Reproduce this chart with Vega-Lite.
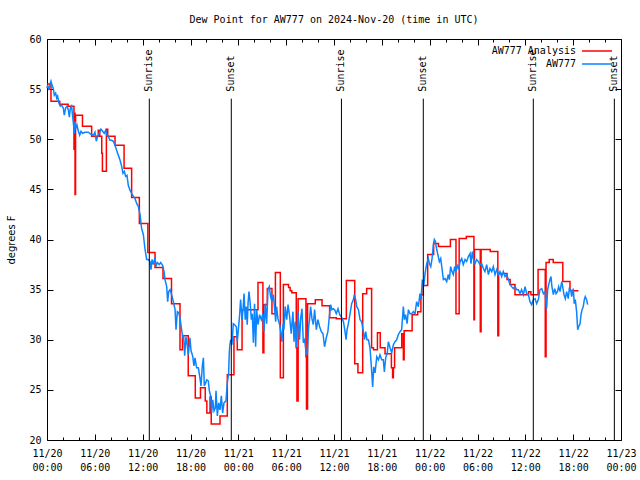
{
  "$schema": "https://vega.github.io/schema/vega-lite/v6.json",
  "autosize": "none",
  "width": 574,
  "height": 401,
  "padding": {"top": 39, "left": 47, "right": 19, "bottom": 40},
  "background": "white",
  "title": {"text": "Dew Point for AW777 on 2024-Nov-20 (time in UTC)", "font": "DejaVu Sans Mono", "fontSize": 10, "fontWeight": "normal", "color": "black", "offset": 9, "anchor": "middle"},
  "config": {
    "view": {"stroke": "black", "strokeWidth": 1},
    "axis": {"domain": false, "grid": false, "labelFont": "DejaVu Sans Mono", "labelFontSize": 10, "labelColor": "black", "tickColor": "black", "tickWidth": 1, "labelFlush": false, "labelOverlap": false, "titleColor": "black"}
  },
  "datasets": {
    "sun": [
      {"t": "2024-11-20T12:50:00Z", "label": "Sunrise"},
      {"t": "2024-11-20T23:07:00Z", "label": "Sunset"},
      {"t": "2024-11-21T12:56:00Z", "label": "Sunrise"},
      {"t": "2024-11-21T23:12:00Z", "label": "Sunset"},
      {"t": "2024-11-22T13:00:00Z", "label": "Sunrise"},
      {"t": "2024-11-22T23:10:00Z", "label": "Sunset"}
    ],
    "red": [
      {"t":"2024-11-20T00:00:00Z","v":55.5},{"t":"2024-11-20T00:30:00Z","v":53.8},{"t":"2024-11-20T01:36:00Z","v":53.5},{"t":"2024-11-20T02:39:00Z","v":53.3},
      {"t":"2024-11-20T03:23:00Z","v":49.0},{"t":"2024-11-20T03:27:00Z","v":52.6},{"t":"2024-11-20T03:31:00Z","v":44.5},{"t":"2024-11-20T03:35:00Z","v":52.4},
      {"t":"2024-11-20T04:27:00Z","v":51.3},{"t":"2024-11-20T05:36:00Z","v":50.3},{"t":"2024-11-20T06:26:00Z","v":50.9},{"t":"2024-11-20T06:37:00Z","v":50.3},
      {"t":"2024-11-20T06:52:00Z","v":48.6},{"t":"2024-11-20T06:57:00Z","v":46.8},{"t":"2024-11-20T07:27:00Z","v":51.0},{"t":"2024-11-20T07:37:00Z","v":50.3},
      {"t":"2024-11-20T08:32:00Z","v":49.4},{"t":"2024-11-20T09:40:00Z","v":47.1},{"t":"2024-11-20T10:37:00Z","v":44.2},{"t":"2024-11-20T11:35:00Z","v":41.6},
      {"t":"2024-11-20T12:39:00Z","v":38.7},{"t":"2024-11-20T13:33:00Z","v":37.2},{"t":"2024-11-20T14:33:00Z","v":36.1},{"t":"2024-11-20T15:37:00Z","v":33.6},
      {"t":"2024-11-20T16:41:00Z","v":29.0},{"t":"2024-11-20T17:00:00Z","v":30.4},{"t":"2024-11-20T17:43:00Z","v":26.4},{"t":"2024-11-20T18:36:00Z","v":24.2},
      {"t":"2024-11-20T19:15:00Z","v":25.2},{"t":"2024-11-20T19:51:00Z","v":23.9},{"t":"2024-11-20T20:03:00Z","v":22.7},{"t":"2024-11-20T20:27:00Z","v":24.3},
      {"t":"2024-11-20T20:36:00Z","v":21.6},{"t":"2024-11-20T21:42:00Z","v":22.4},{"t":"2024-11-20T22:37:00Z","v":26.5},{"t":"2024-11-20T23:27:00Z","v":30.3},
      {"t":"2024-11-20T23:52:00Z","v":29.0},{"t":"2024-11-21T00:28:00Z","v":33.0},{"t":"2024-11-21T02:28:00Z","v":35.7},{"t":"2024-11-21T03:05:00Z","v":28.7},
      {"t":"2024-11-21T03:12:00Z","v":33.5},{"t":"2024-11-21T03:38:00Z","v":35.1},{"t":"2024-11-21T04:13:00Z","v":32.6},{"t":"2024-11-21T04:39:00Z","v":36.7},
      {"t":"2024-11-21T05:16:00Z","v":26.2},{"t":"2024-11-21T05:39:00Z","v":35.5},{"t":"2024-11-21T06:18:00Z","v":35.2},{"t":"2024-11-21T06:30:00Z","v":34.9},
      {"t":"2024-11-21T06:42:00Z","v":34.7},{"t":"2024-11-21T07:16:00Z","v":29.2},{"t":"2024-11-21T07:21:00Z","v":23.9},{"t":"2024-11-21T07:30:00Z","v":34.1},
      {"t":"2024-11-21T08:29:00Z","v":28.3},{"t":"2024-11-21T08:33:00Z","v":23.1},{"t":"2024-11-21T08:41:00Z","v":33.6},{"t":"2024-11-21T09:39:00Z","v":34.0},
      {"t":"2024-11-21T10:30:00Z","v":33.4},{"t":"2024-11-21T11:27:00Z","v":32.2},{"t":"2024-11-21T12:18:00Z","v":32.1},{"t":"2024-11-21T13:33:00Z","v":35.9},
      {"t":"2024-11-21T14:36:00Z","v":27.6},{"t":"2024-11-21T15:00:00Z","v":26.7},{"t":"2024-11-21T15:36:00Z","v":34.6},{"t":"2024-11-21T16:06:00Z","v":35.1},
      {"t":"2024-11-21T16:43:00Z","v":29.2},{"t":"2024-11-21T16:57:00Z","v":29.0},{"t":"2024-11-21T17:27:00Z","v":30.7},{"t":"2024-11-21T17:48:00Z","v":29.2},
      {"t":"2024-11-21T18:24:00Z","v":28.6},{"t":"2024-11-21T19:12:00Z","v":27.2},{"t":"2024-11-21T19:21:00Z","v":26.2},{"t":"2024-11-21T19:27:00Z","v":27.2},
      {"t":"2024-11-21T19:36:00Z","v":29.2},{"t":"2024-11-21T20:30:00Z","v":30.6},{"t":"2024-11-21T20:42:00Z","v":28.0},{"t":"2024-11-21T20:48:00Z","v":30.9},
      {"t":"2024-11-21T21:48:00Z","v":32.5},{"t":"2024-11-21T22:30:00Z","v":32.8},{"t":"2024-11-21T22:54:00Z","v":34.5},{"t":"2024-11-21T23:12:00Z","v":35.4},
      {"t":"2024-11-21T23:45:00Z","v":38.5},{"t":"2024-11-22T00:30:00Z","v":39.6},{"t":"2024-11-22T01:06:00Z","v":39.3},{"t":"2024-11-22T02:36:00Z","v":40.0},
      {"t":"2024-11-22T03:18:00Z","v":32.6},{"t":"2024-11-22T03:42:00Z","v":40.1},{"t":"2024-11-22T04:36:00Z","v":40.3},{"t":"2024-11-22T05:33:00Z","v":32.0},
      {"t":"2024-11-22T05:37:00Z","v":39.0},{"t":"2024-11-22T06:21:00Z","v":30.8},{"t":"2024-11-22T06:27:00Z","v":39.0},{"t":"2024-11-22T07:36:00Z","v":38.8},
      {"t":"2024-11-22T08:33:00Z","v":30.4},{"t":"2024-11-22T08:39:00Z","v":36.6},{"t":"2024-11-22T09:42:00Z","v":36.0},{"t":"2024-11-22T10:06:00Z","v":35.5},
      {"t":"2024-11-22T10:42:00Z","v":34.5},{"t":"2024-11-22T12:24:00Z","v":34.8},{"t":"2024-11-22T12:42:00Z","v":34.5},{"t":"2024-11-22T13:36:00Z","v":37.0},
      {"t":"2024-11-22T14:30:00Z","v":28.3},{"t":"2024-11-22T14:36:00Z","v":37.7},{"t":"2024-11-22T15:00:00Z","v":38.0},{"t":"2024-11-22T15:30:00Z","v":37.7},
      {"t":"2024-11-22T16:42:00Z","v":35.8},{"t":"2024-11-22T17:36:00Z","v":34.9},{"t":"2024-11-22T18:39:00Z","v":34.9}
    ],
    "blue": [
      {"t":"2024-11-20T00:00:00Z","v":55.1},{"t":"2024-11-20T00:05:00Z","v":55.4},{"t":"2024-11-20T00:15:00Z","v":54.9},{"t":"2024-11-20T00:23:00Z","v":55.5},
      {"t":"2024-11-20T00:30:00Z","v":55.8},{"t":"2024-11-20T00:40:00Z","v":55.3},{"t":"2024-11-20T00:47:00Z","v":55.1},{"t":"2024-11-20T00:55:00Z","v":54.4},
      {"t":"2024-11-20T01:05:00Z","v":54.6},{"t":"2024-11-20T01:13:00Z","v":54.1},{"t":"2024-11-20T01:20:00Z","v":54.3},{"t":"2024-11-20T01:30:00Z","v":53.6},
      {"t":"2024-11-20T01:40:00Z","v":53.3},{"t":"2024-11-20T01:50:00Z","v":53.4},{"t":"2024-11-20T02:03:00Z","v":53.1},{"t":"2024-11-20T02:10:00Z","v":52.4},
      {"t":"2024-11-20T02:20:00Z","v":53.1},{"t":"2024-11-20T02:31:00Z","v":53.3},{"t":"2024-11-20T02:41:00Z","v":52.9},{"t":"2024-11-20T02:48:00Z","v":52.2},
      {"t":"2024-11-20T02:56:00Z","v":53.1},{"t":"2024-11-20T03:05:00Z","v":53.3},{"t":"2024-11-20T03:13:00Z","v":52.3},{"t":"2024-11-20T03:20:00Z","v":51.4},
      {"t":"2024-11-20T03:26:00Z","v":50.6},{"t":"2024-11-20T03:31:00Z","v":51.8},{"t":"2024-11-20T03:38:00Z","v":51.1},{"t":"2024-11-20T03:46:00Z","v":51.4},
      {"t":"2024-11-20T03:56:00Z","v":50.8},{"t":"2024-11-20T04:06:00Z","v":50.4},{"t":"2024-11-20T04:16:00Z","v":50.8},{"t":"2024-11-20T04:28:00Z","v":50.6},
      {"t":"2024-11-20T04:46:00Z","v":50.7},{"t":"2024-11-20T05:11:00Z","v":50.7},{"t":"2024-11-20T05:31:00Z","v":50.5},{"t":"2024-11-20T05:49:00Z","v":50.4},
      {"t":"2024-11-20T06:01:00Z","v":50.7},{"t":"2024-11-20T06:11:00Z","v":49.8},{"t":"2024-11-20T06:21:00Z","v":50.3},{"t":"2024-11-20T06:34:00Z","v":50.6},
      {"t":"2024-11-20T06:46:00Z","v":51.0},{"t":"2024-11-20T06:59:00Z","v":50.8},{"t":"2024-11-20T07:11:00Z","v":50.6},{"t":"2024-11-20T07:22:00Z","v":50.9},
      {"t":"2024-11-20T07:32:00Z","v":50.4},{"t":"2024-11-20T07:41:00Z","v":50.3},{"t":"2024-11-20T07:54:00Z","v":49.9},{"t":"2024-11-20T08:07:00Z","v":49.9},
      {"t":"2024-11-20T08:19:00Z","v":49.8},{"t":"2024-11-20T08:32:00Z","v":49.4},{"t":"2024-11-20T08:44:00Z","v":48.9},{"t":"2024-11-20T08:57:00Z","v":48.4},
      {"t":"2024-11-20T09:10:00Z","v":47.9},{"t":"2024-11-20T09:22:00Z","v":47.3},{"t":"2024-11-20T09:32:00Z","v":46.6},{"t":"2024-11-20T09:42:00Z","v":46.8},
      {"t":"2024-11-20T09:52:00Z","v":46.3},{"t":"2024-11-20T10:02:00Z","v":46.4},{"t":"2024-11-20T10:12:00Z","v":45.4},{"t":"2024-11-20T10:25:00Z","v":44.9},
      {"t":"2024-11-20T10:37:00Z","v":44.6},{"t":"2024-11-20T10:50:00Z","v":44.3},{"t":"2024-11-20T11:02:00Z","v":44.1},{"t":"2024-11-20T11:15:00Z","v":43.6},
      {"t":"2024-11-20T11:27:00Z","v":43.3},{"t":"2024-11-20T11:40:00Z","v":42.5},{"t":"2024-11-20T11:52:00Z","v":41.1},{"t":"2024-11-20T12:05:00Z","v":40.5},
      {"t":"2024-11-20T12:17:00Z","v":39.1},{"t":"2024-11-20T12:30:00Z","v":38.0},{"t":"2024-11-20T12:43:00Z","v":38.0},{"t":"2024-11-20T12:55:00Z","v":37.8},
      {"t":"2024-11-20T13:03:00Z","v":37.0},{"t":"2024-11-20T13:10:00Z","v":38.0},{"t":"2024-11-20T13:20:00Z","v":37.5},{"t":"2024-11-20T13:33:00Z","v":38.2},
      {"t":"2024-11-20T13:40:00Z","v":37.3},{"t":"2024-11-20T13:50:00Z","v":37.7},{"t":"2024-11-20T14:05:00Z","v":37.5},{"t":"2024-11-20T14:16:00Z","v":37.7},
      {"t":"2024-11-20T14:31:00Z","v":37.4},{"t":"2024-11-20T14:41:00Z","v":36.8},{"t":"2024-11-20T14:48:00Z","v":36.0},{"t":"2024-11-20T15:01:00Z","v":35.3},
      {"t":"2024-11-20T15:08:00Z","v":33.8},{"t":"2024-11-20T15:16:00Z","v":34.8},{"t":"2024-11-20T15:26:00Z","v":35.0},{"t":"2024-11-20T15:38:00Z","v":34.5},
      {"t":"2024-11-20T15:51:00Z","v":33.8},{"t":"2024-11-20T16:04:00Z","v":33.0},{"t":"2024-11-20T16:11:00Z","v":31.0},{"t":"2024-11-20T16:21:00Z","v":32.8},
      {"t":"2024-11-20T16:31:00Z","v":32.7},{"t":"2024-11-20T16:41:00Z","v":32.2},{"t":"2024-11-20T16:53:00Z","v":31.0},{"t":"2024-11-20T17:01:00Z","v":30.3},
      {"t":"2024-11-20T17:08:00Z","v":30.5},{"t":"2024-11-20T17:16:00Z","v":28.4},{"t":"2024-11-20T17:26:00Z","v":30.3},{"t":"2024-11-20T17:36:00Z","v":29.4},
      {"t":"2024-11-20T17:44:00Z","v":28.5},{"t":"2024-11-20T17:56:00Z","v":30.2},{"t":"2024-11-20T18:04:00Z","v":28.9},{"t":"2024-11-20T18:16:00Z","v":28.4},
      {"t":"2024-11-20T18:26:00Z","v":27.4},{"t":"2024-11-20T18:34:00Z","v":28.2},{"t":"2024-11-20T18:46:00Z","v":27.2},{"t":"2024-11-20T18:59:00Z","v":27.2},
      {"t":"2024-11-20T19:11:00Z","v":26.2},{"t":"2024-11-20T19:19:00Z","v":25.4},{"t":"2024-11-20T19:29:00Z","v":27.4},{"t":"2024-11-20T19:37:00Z","v":28.2},
      {"t":"2024-11-20T19:44:00Z","v":25.4},{"t":"2024-11-20T19:54:00Z","v":25.7},{"t":"2024-11-20T20:02:00Z","v":26.0},{"t":"2024-11-20T20:14:00Z","v":25.9},
      {"t":"2024-11-20T20:22:00Z","v":24.9},{"t":"2024-11-20T20:32:00Z","v":24.4},{"t":"2024-11-20T20:39:00Z","v":22.7},{"t":"2024-11-20T20:47:00Z","v":24.0},
      {"t":"2024-11-20T20:57:00Z","v":22.9},{"t":"2024-11-20T21:07:00Z","v":23.2},{"t":"2024-11-20T21:12:00Z","v":24.9},{"t":"2024-11-20T21:22:00Z","v":22.4},
      {"t":"2024-11-20T21:32:00Z","v":23.7},{"t":"2024-11-20T21:42:00Z","v":23.0},{"t":"2024-11-20T21:52:00Z","v":24.4},{"t":"2024-11-20T22:02:00Z","v":22.7},
      {"t":"2024-11-20T22:12:00Z","v":23.7},{"t":"2024-11-20T22:27:00Z","v":23.9},{"t":"2024-11-20T22:37:00Z","v":25.7},{"t":"2024-11-20T22:47:00Z","v":26.7},
      {"t":"2024-11-20T22:52:00Z","v":28.7},{"t":"2024-11-20T22:55:00Z","v":29.3},{"t":"2024-11-20T23:02:00Z","v":30.0},{"t":"2024-11-20T23:12:00Z","v":29.5},
      {"t":"2024-11-20T23:22:00Z","v":31.6},{"t":"2024-11-20T23:32:00Z","v":31.5},{"t":"2024-11-20T23:45:00Z","v":31.3},{"t":"2024-11-20T23:52:00Z","v":29.8},
      {"t":"2024-11-21T00:02:00Z","v":31.3},{"t":"2024-11-21T00:10:00Z","v":32.5},{"t":"2024-11-21T00:17:00Z","v":34.0},{"t":"2024-11-21T00:28:00Z","v":32.0},
      {"t":"2024-11-21T00:35:00Z","v":33.0},{"t":"2024-11-21T00:43:00Z","v":34.6},{"t":"2024-11-21T00:52:00Z","v":32.0},{"t":"2024-11-21T01:00:00Z","v":33.3},
      {"t":"2024-11-21T01:07:00Z","v":31.5},{"t":"2024-11-21T01:13:00Z","v":33.6},{"t":"2024-11-21T01:20:00Z","v":34.8},{"t":"2024-11-21T01:28:00Z","v":33.8},
      {"t":"2024-11-21T01:38:00Z","v":32.0},{"t":"2024-11-21T01:45:00Z","v":32.6},{"t":"2024-11-21T01:53:00Z","v":29.7},{"t":"2024-11-21T02:02:00Z","v":33.6},
      {"t":"2024-11-21T02:10:00Z","v":29.3},{"t":"2024-11-21T02:18:00Z","v":33.0},{"t":"2024-11-21T02:28:00Z","v":31.5},{"t":"2024-11-21T02:40:00Z","v":32.5},
      {"t":"2024-11-21T02:53:00Z","v":32.0},{"t":"2024-11-21T03:05:00Z","v":32.6},{"t":"2024-11-21T03:13:00Z","v":30.8},{"t":"2024-11-21T03:23:00Z","v":33.6},
      {"t":"2024-11-21T03:33:00Z","v":31.6},{"t":"2024-11-21T03:43:00Z","v":35.0},{"t":"2024-11-21T03:53:00Z","v":35.3},{"t":"2024-11-21T04:03:00Z","v":34.3},
      {"t":"2024-11-21T04:13:00Z","v":33.8},{"t":"2024-11-21T04:23:00Z","v":34.5},{"t":"2024-11-21T04:33:00Z","v":33.1},{"t":"2024-11-21T04:41:00Z","v":31.8},
      {"t":"2024-11-21T04:48:00Z","v":33.3},{"t":"2024-11-21T04:58:00Z","v":32.1},{"t":"2024-11-21T05:11:00Z","v":31.5},{"t":"2024-11-21T05:19:00Z","v":30.8},
      {"t":"2024-11-21T05:28:00Z","v":29.8},{"t":"2024-11-21T05:36:00Z","v":31.6},{"t":"2024-11-21T05:43:00Z","v":31.0},{"t":"2024-11-21T05:53:00Z","v":33.3},
      {"t":"2024-11-21T06:04:00Z","v":32.0},{"t":"2024-11-21T06:14:00Z","v":33.5},{"t":"2024-11-21T06:26:00Z","v":32.3},{"t":"2024-11-21T06:38:00Z","v":30.6},
      {"t":"2024-11-21T06:51:00Z","v":32.8},{"t":"2024-11-21T06:59:00Z","v":29.8},{"t":"2024-11-21T07:08:00Z","v":31.8},{"t":"2024-11-21T07:16:00Z","v":29.2},
      {"t":"2024-11-21T07:29:00Z","v":32.8},{"t":"2024-11-21T07:41:00Z","v":30.0},{"t":"2024-11-21T07:49:00Z","v":32.1},{"t":"2024-11-21T07:59:00Z","v":33.1},
      {"t":"2024-11-21T08:09:00Z","v":29.7},{"t":"2024-11-21T08:19:00Z","v":30.0},{"t":"2024-11-21T08:29:00Z","v":28.8},{"t":"2024-11-21T08:39:00Z","v":28.5},
      {"t":"2024-11-21T08:49:00Z","v":31.3},{"t":"2024-11-21T08:56:00Z","v":32.0},{"t":"2024-11-21T09:04:00Z","v":33.3},{"t":"2024-11-21T09:14:00Z","v":32.1},
      {"t":"2024-11-21T09:24:00Z","v":31.5},{"t":"2024-11-21T09:34:00Z","v":33.0},{"t":"2024-11-21T09:47:00Z","v":31.0},{"t":"2024-11-21T09:59:00Z","v":32.0},
      {"t":"2024-11-21T10:12:00Z","v":31.3},{"t":"2024-11-21T10:25:00Z","v":30.8},{"t":"2024-11-21T10:37:00Z","v":30.6},{"t":"2024-11-21T10:49:00Z","v":29.3},
      {"t":"2024-11-21T11:02:00Z","v":30.2},{"t":"2024-11-21T11:14:00Z","v":30.8},{"t":"2024-11-21T11:27:00Z","v":32.6},{"t":"2024-11-21T11:35:00Z","v":33.5},
      {"t":"2024-11-21T11:44:00Z","v":33.0},{"t":"2024-11-21T11:55:00Z","v":33.1},{"t":"2024-11-21T12:05:00Z","v":33.0},{"t":"2024-11-21T12:17:00Z","v":32.6},
      {"t":"2024-11-21T12:30:00Z","v":33.1},{"t":"2024-11-21T12:43:00Z","v":32.5},{"t":"2024-11-21T12:55:00Z","v":32.3},{"t":"2024-11-21T13:11:00Z","v":31.8},
      {"t":"2024-11-21T13:23:00Z","v":30.8},{"t":"2024-11-21T13:31:00Z","v":30.0},{"t":"2024-11-21T13:38:00Z","v":31.0},{"t":"2024-11-21T13:48:00Z","v":31.6},
      {"t":"2024-11-21T14:01:00Z","v":32.6},{"t":"2024-11-21T14:13:00Z","v":33.6},{"t":"2024-11-21T14:26:00Z","v":34.0},{"t":"2024-11-21T14:33:00Z","v":34.5},
      {"t":"2024-11-21T14:43:00Z","v":34.0},{"t":"2024-11-21T14:51:00Z","v":33.3},{"t":"2024-11-21T15:04:00Z","v":33.0},{"t":"2024-11-21T15:16:00Z","v":32.0},
      {"t":"2024-11-21T15:28:00Z","v":31.8},{"t":"2024-11-21T15:41:00Z","v":30.8},{"t":"2024-11-21T15:49:00Z","v":30.0},{"t":"2024-11-21T15:59:00Z","v":30.8},
      {"t":"2024-11-21T16:08:00Z","v":30.0},{"t":"2024-11-21T16:19:00Z","v":30.0},{"t":"2024-11-21T16:31:00Z","v":29.2},{"t":"2024-11-21T16:44:00Z","v":26.8},
      {"t":"2024-11-21T16:51:00Z","v":25.3},{"t":"2024-11-21T16:59:00Z","v":27.3},{"t":"2024-11-21T17:09:00Z","v":26.7},{"t":"2024-11-21T17:22:00Z","v":28.3},
      {"t":"2024-11-21T17:34:00Z","v":28.0},{"t":"2024-11-21T17:46:00Z","v":28.5},{"t":"2024-11-21T17:59:00Z","v":28.0},{"t":"2024-11-21T18:11:00Z","v":28.0},
      {"t":"2024-11-21T18:19:00Z","v":26.8},{"t":"2024-11-21T18:29:00Z","v":28.2},{"t":"2024-11-21T18:41:00Z","v":28.7},{"t":"2024-11-21T18:49:00Z","v":29.8},
      {"t":"2024-11-21T19:02:00Z","v":29.2},{"t":"2024-11-21T19:14:00Z","v":28.7},{"t":"2024-11-21T19:27:00Z","v":29.5},{"t":"2024-11-21T19:39:00Z","v":29.8},
      {"t":"2024-11-21T19:52:00Z","v":30.0},{"t":"2024-11-21T20:04:00Z","v":30.5},{"t":"2024-11-21T20:17:00Z","v":30.8},{"t":"2024-11-21T20:29:00Z","v":31.0},
      {"t":"2024-11-21T20:42:00Z","v":33.3},{"t":"2024-11-21T20:50:00Z","v":32.0},{"t":"2024-11-21T20:59:00Z","v":32.5},{"t":"2024-11-21T21:10:00Z","v":31.6},
      {"t":"2024-11-21T21:20:00Z","v":33.0},{"t":"2024-11-21T21:32:00Z","v":32.6},{"t":"2024-11-21T21:45:00Z","v":32.6},{"t":"2024-11-21T21:57:00Z","v":32.8},
      {"t":"2024-11-21T22:10:00Z","v":32.6},{"t":"2024-11-21T22:22:00Z","v":33.8},{"t":"2024-11-21T22:35:00Z","v":33.3},{"t":"2024-11-21T22:47:00Z","v":34.6},
      {"t":"2024-11-21T22:55:00Z","v":34.0},{"t":"2024-11-21T23:05:00Z","v":36.0},{"t":"2024-11-21T23:15:00Z","v":35.3},{"t":"2024-11-21T23:25:00Z","v":36.6},
      {"t":"2024-11-21T23:38:00Z","v":37.6},{"t":"2024-11-21T23:43:00Z","v":37.8},{"t":"2024-11-21T23:50:00Z","v":38.1},{"t":"2024-11-21T23:58:00Z","v":37.6},
      {"t":"2024-11-22T00:08:00Z","v":37.3},{"t":"2024-11-22T00:18:00Z","v":38.1},{"t":"2024-11-22T00:28:00Z","v":39.5},{"t":"2024-11-22T00:35:00Z","v":40.0},
      {"t":"2024-11-22T00:43:00Z","v":39.8},{"t":"2024-11-22T00:53:00Z","v":39.0},{"t":"2024-11-22T01:05:00Z","v":38.3},{"t":"2024-11-22T01:13:00Z","v":37.8},
      {"t":"2024-11-22T01:23:00Z","v":38.1},{"t":"2024-11-22T01:33:00Z","v":37.1},{"t":"2024-11-22T01:43:00Z","v":36.0},{"t":"2024-11-22T01:56:00Z","v":36.1},
      {"t":"2024-11-22T02:08:00Z","v":35.8},{"t":"2024-11-22T02:20:00Z","v":36.5},{"t":"2024-11-22T02:28:00Z","v":36.0},{"t":"2024-11-22T02:38:00Z","v":37.3},
      {"t":"2024-11-22T02:48:00Z","v":36.8},{"t":"2024-11-22T02:58:00Z","v":36.5},{"t":"2024-11-22T03:08:00Z","v":37.3},{"t":"2024-11-22T03:18:00Z","v":36.8},
      {"t":"2024-11-22T03:28:00Z","v":37.5},{"t":"2024-11-22T03:38:00Z","v":37.0},{"t":"2024-11-22T03:49:00Z","v":37.8},{"t":"2024-11-22T04:01:00Z","v":38.1},
      {"t":"2024-11-22T04:13:00Z","v":37.5},{"t":"2024-11-22T04:26:00Z","v":38.0},{"t":"2024-11-22T04:38:00Z","v":37.8},{"t":"2024-11-22T04:51:00Z","v":38.3},
      {"t":"2024-11-22T05:04:00Z","v":38.6},{"t":"2024-11-22T05:11:00Z","v":37.6},{"t":"2024-11-22T05:21:00Z","v":38.8},{"t":"2024-11-22T05:29:00Z","v":38.1},
      {"t":"2024-11-22T05:41:00Z","v":37.6},{"t":"2024-11-22T05:54:00Z","v":38.0},{"t":"2024-11-22T06:07:00Z","v":37.8},{"t":"2024-11-22T06:19:00Z","v":37.5},
      {"t":"2024-11-22T06:31:00Z","v":37.6},{"t":"2024-11-22T06:44:00Z","v":37.1},{"t":"2024-11-22T06:56:00Z","v":36.8},{"t":"2024-11-22T07:09:00Z","v":37.5},
      {"t":"2024-11-22T07:22:00Z","v":36.5},{"t":"2024-11-22T07:34:00Z","v":37.1},{"t":"2024-11-22T07:47:00Z","v":36.8},{"t":"2024-11-22T07:59:00Z","v":37.3},
      {"t":"2024-11-22T08:12:00Z","v":36.5},{"t":"2024-11-22T08:25:00Z","v":37.0},{"t":"2024-11-22T08:37:00Z","v":36.5},{"t":"2024-11-22T08:49:00Z","v":36.8},
      {"t":"2024-11-22T09:02:00Z","v":36.3},{"t":"2024-11-22T09:14:00Z","v":36.8},{"t":"2024-11-22T09:27:00Z","v":36.3},{"t":"2024-11-22T09:40:00Z","v":36.5},
      {"t":"2024-11-22T09:52:00Z","v":36.0},{"t":"2024-11-22T10:05:00Z","v":35.5},{"t":"2024-11-22T10:17:00Z","v":35.3},{"t":"2024-11-22T10:30:00Z","v":35.1},
      {"t":"2024-11-22T10:42:00Z","v":35.3},{"t":"2024-11-22T10:55:00Z","v":35.0},{"t":"2024-11-22T11:07:00Z","v":35.0},{"t":"2024-11-22T11:20:00Z","v":34.6},
      {"t":"2024-11-22T11:32:00Z","v":35.0},{"t":"2024-11-22T11:45:00Z","v":34.5},{"t":"2024-11-22T11:58:00Z","v":35.3},{"t":"2024-11-22T12:10:00Z","v":34.6},
      {"t":"2024-11-22T12:23:00Z","v":34.5},{"t":"2024-11-22T12:35:00Z","v":33.8},{"t":"2024-11-22T12:47:00Z","v":33.5},{"t":"2024-11-22T13:00:00Z","v":34.0},
      {"t":"2024-11-22T13:13:00Z","v":34.1},{"t":"2024-11-22T13:25:00Z","v":33.6},{"t":"2024-11-22T13:38:00Z","v":34.0},{"t":"2024-11-22T13:50:00Z","v":35.0},
      {"t":"2024-11-22T14:03:00Z","v":35.1},{"t":"2024-11-22T14:16:00Z","v":34.6},{"t":"2024-11-22T14:28:00Z","v":34.8},{"t":"2024-11-22T14:40:00Z","v":33.1},
      {"t":"2024-11-22T14:48:00Z","v":35.0},{"t":"2024-11-22T14:56:00Z","v":35.5},{"t":"2024-11-22T15:05:00Z","v":36.0},{"t":"2024-11-22T15:13:00Z","v":36.3},
      {"t":"2024-11-22T15:20:00Z","v":35.3},{"t":"2024-11-22T15:31:00Z","v":34.5},{"t":"2024-11-22T15:41:00Z","v":35.1},{"t":"2024-11-22T15:51:00Z","v":34.6},
      {"t":"2024-11-22T16:01:00Z","v":34.8},{"t":"2024-11-22T16:11:00Z","v":35.3},{"t":"2024-11-22T16:21:00Z","v":34.8},{"t":"2024-11-22T16:34:00Z","v":35.8},
      {"t":"2024-11-22T16:41:00Z","v":35.3},{"t":"2024-11-22T16:51:00Z","v":34.5},{"t":"2024-11-22T17:01:00Z","v":34.1},{"t":"2024-11-22T17:11:00Z","v":34.8},
      {"t":"2024-11-22T17:23:00Z","v":34.1},{"t":"2024-11-22T17:31:00Z","v":35.1},{"t":"2024-11-22T17:41:00Z","v":35.0},{"t":"2024-11-22T17:49:00Z","v":34.3},
      {"t":"2024-11-22T18:01:00Z","v":35.1},{"t":"2024-11-22T18:08:00Z","v":33.6},{"t":"2024-11-22T18:16:00Z","v":34.0},{"t":"2024-11-22T18:26:00Z","v":32.8},
      {"t":"2024-11-22T18:34:00Z","v":31.0},{"t":"2024-11-22T18:41:00Z","v":31.3},{"t":"2024-11-22T18:52:00Z","v":31.6},{"t":"2024-11-22T18:59:00Z","v":32.5},
      {"t":"2024-11-22T19:07:00Z","v":33.0},{"t":"2024-11-22T19:16:00Z","v":33.3},{"t":"2024-11-22T19:24:00Z","v":34.0},{"t":"2024-11-22T19:31:00Z","v":34.3},
      {"t":"2024-11-22T19:41:00Z","v":34.0},{"t":"2024-11-22T19:49:00Z","v":33.5}
    ]
  },
  "resolve": {"axis": {"x": "independent", "y": "independent"}},
  "layer": [
    {
      "data": {"name": "red"},
      "mark": {"type": "line", "interpolate": "step-after", "strokeWidth": 1.5},
      "encoding": {
        "x": {"field": "t", "type": "temporal", "scale": {"type": "utc", "domain": [1732060800000, 1732320000000]}, "title": null,
          "axis": {"orient": "bottom",
            "values": [1732060800000, 1732068000000, 1732075200000, 1732082400000, 1732089600000, 1732096800000, 1732104000000, 1732111200000, 1732118400000, 1732125600000, 1732132800000, 1732140000000, 1732147200000, 1732154400000, 1732161600000, 1732168800000, 1732176000000, 1732183200000, 1732190400000, 1732197600000, 1732204800000, 1732212000000, 1732219200000, 1732226400000, 1732233600000, 1732240800000, 1732248000000, 1732255200000, 1732262400000, 1732269600000, 1732276800000, 1732284000000, 1732291200000, 1732298400000, 1732305600000, 1732312800000, 1732320000000],
            "labelExpr": "utchours(datum.value) % 6 == 0 ? [utcFormat(datum.value, '%m/%d'), utcFormat(datum.value, '%H:%M')] : ''",
            "tickSize": {"condition": {"test": "utchours(datum.value) % 6 == 0", "value": -6}, "value": -3},
            "labelPadding": 14, "labelLineHeight": 14}},
        "y": {"field": "v", "type": "quantitative", "scale": {"domain": [20, 60], "zero": false, "nice": false}, "title": "degrees F",
          "axis": {"orient": "left", "values": [20, 25, 30, 35, 40, 45, 50, 55, 60], "tickSize": -6, "labelPadding": 12,
            "titleFont": "DejaVu Sans", "titleFontSize": 10, "titleFontWeight": "normal", "titlePadding": 12}},
        "color": {"datum": "AW777 Analysis", "type": "nominal",
          "scale": {"domain": ["AW777 Analysis", "AW777"], "range": ["#ff0000", "#0a84ff"]},
          "legend": {"orient": "none", "legendX": 544, "legendY": 6, "title": null, "symbolType": "M-3,0H3", "symbolSize": 100, "symbolStrokeWidth": 1.5,
            "labelFont": "DejaVu Sans Mono", "labelFontSize": 10, "labelColor": "black", "labelAlign": "right", "labelOffset": -27, "rowPadding": 2, "padding": 0}}
      }
    },
    {
      "data": {"name": "blue"},
      "mark": {"type": "line", "strokeWidth": 1.5},
      "encoding": {
        "x": {"field": "t", "type": "temporal", "title": null,
          "axis": {"orient": "top", "labels": false,
            "values": [1732060800000, 1732068000000, 1732075200000, 1732082400000, 1732089600000, 1732096800000, 1732104000000, 1732111200000, 1732118400000, 1732125600000, 1732132800000, 1732140000000, 1732147200000, 1732154400000, 1732161600000, 1732168800000, 1732176000000, 1732183200000, 1732190400000, 1732197600000, 1732204800000, 1732212000000, 1732219200000, 1732226400000, 1732233600000, 1732240800000, 1732248000000, 1732255200000, 1732262400000, 1732269600000, 1732276800000, 1732284000000, 1732291200000, 1732298400000, 1732305600000, 1732312800000, 1732320000000],
            "tickSize": {"condition": {"test": "utchours(datum.value) % 6 == 0", "value": -6}, "value": -3}}},
        "y": {"field": "v", "type": "quantitative", "title": null,
          "axis": {"orient": "right", "values": [20, 25, 30, 35, 40, 45, 50, 55, 60], "tickSize": -6, "labels": false}},
        "color": {"datum": "AW777", "type": "nominal"}
      }
    },
    {
      "data": {"name": "sun"},
      "mark": {"type": "rule", "color": "black", "strokeWidth": 1},
      "encoding": {
        "x": {"field": "t", "type": "temporal", "axis": null},
        "y": {"datum": 54.05, "type": "quantitative", "axis": null},
        "y2": {"datum": 20}
      }
    },
    {
      "data": {"name": "sun"},
      "mark": {"type": "text", "angle": 270, "align": "left", "baseline": "middle", "font": "DejaVu Sans Mono", "fontSize": 10, "color": "black"},
      "encoding": {
        "x": {"field": "t", "type": "temporal", "axis": null},
        "y": {"datum": 54.75, "type": "quantitative", "axis": null},
        "text": {"field": "label"}
      }
    }
  ]
}
